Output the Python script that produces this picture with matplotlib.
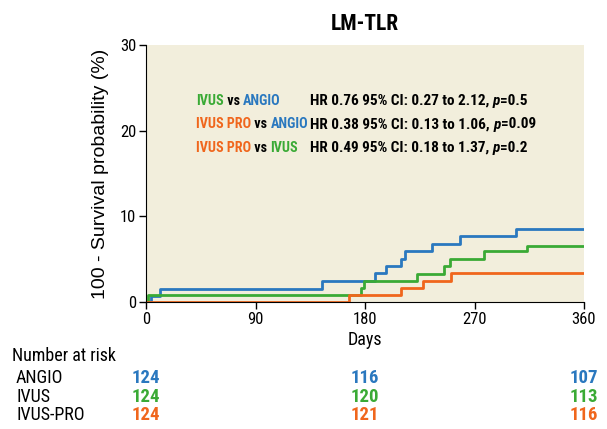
import numpy as np
import matplotlib
matplotlib.use("Agg")
import matplotlib.pyplot as plt
import matplotlib.transforms as mtransforms
from matplotlib import font_manager as fm

# step curves: (day, cumulative event %)
angio_days = [0, 4, 11.5, 145, 188, 197, 209.5, 212.7, 235, 257.7, 304, 360]
angio_vals = [0, 0.7, 1.57, 2.47, 3.33, 4.16, 5.0, 5.9, 6.75, 7.65, 8.5, 8.5]
ivus_days = [0, 2, 177, 179, 223, 244.6, 250, 278, 313, 360]
ivus_vals = [0, 0.82, 1.6, 2.43, 3.3, 4.15, 5.0, 5.9, 6.55, 6.55]
pro_days = [0, 167, 209.5, 228, 251, 360]
pro_vals = [0, 0.82, 1.65, 2.5, 3.33, 3.33]

risk_times = [0, 180, 360]
risk_angio = [124, 116, 107]
risk_ivus = [124, 120, 113]
risk_pro = [124, 121, 116]

blue = "#2a78bf"
green = "#3aaa35"
orange = "#f0661c"

# look for a narrow face, the original uses a condensed font
names = {f.name for f in fm.fontManager.ttflist}
cands = ["Liberation Sans Narrow", "Roboto Condensed", "DejaVu Sans Condensed",
         "Noto Sans Condensed", "Open Sans Condensed", "Noto Sans SemiCondensed"]
narrow_name = None
for c in cands:
    if c in names:
        narrow_name = c
        break
if narrow_name is None:
    for f in fm.fontManager.ttflist:
        if f.stretch in ("condensed", "semi-condensed", "extra-condensed") or "Condensed" in f.name or "Narrow" in f.name:
            narrow_name = f.name
            break
narrow = [narrow_name, "DejaVu Sans"] if narrow_name else ["DejaVu Sans"]
plt.rcParams["font.family"] = narrow
if narrow_name is None:
    plt.rcParams["font.stretch"] = "condensed"

fig = plt.figure(figsize=(6.07, 4.29), dpi=100)
ax = fig.add_axes([146 / 607, 1 - 302 / 429, (584 - 146) / 607, (302 - 45) / 429])
ax.set_facecolor("#f2eedc")

ax.step(angio_days, angio_vals, where="post", color=blue, lw=2)
ax.step(ivus_days, ivus_vals, where="post", color=green, lw=2)
ax.step(pro_days, pro_vals, where="post", color=orange, lw=2)

ax.set_xlim(0, 360)
ax.set_ylim(0, 30)
ax.set_xticks([0, 90, 180, 270, 360])
ax.set_yticks([0, 10, 20, 30])
ax.tick_params(labelsize=12, length=5, width=1, colors="black", pad=2)
for s in ["top", "right"]:
    ax.spines[s].set_visible(False)
ax.set_xlabel("Days", fontsize=13, labelpad=3)
ax.set_ylabel("100 - Survival probability (%)", fontsize=14, family=["Liberation Sans", "DejaVu Sans"], labelpad=8)
ax.set_title("LM-TLR", fontsize=15.5, fontweight="bold", pad=11)

# comparison annotations
rows = [
    [("IVUS", green), (" vs ", "black"), ("ANGIO", blue)],
    [("IVUS PRO", orange), (" vs ", "black"), ("ANGIO", blue)],
    [("IVUS PRO", orange), (" vs ", "black"), ("IVUS", green)],
]
hr_txt = [
    ("HR 0.76 95% CI: 0.27 to 2.12, ", "0.5"),
    ("HR 0.38 95% CI: 0.13 to 1.06, ", "0.09"),
    ("HR 0.49 95% CI: 0.18 to 1.37, ", "0.2"),
]
fs_l = 10.2 if narrow_name else 7
fs_r = 11 if narrow_name else 7.5
fig.canvas.draw()
r = fig.canvas.get_renderer()
for i, parts in enumerate(rows):
    y = 1 - (101 + i * 23.5) / 429
    x = 196 / 607
    for txt, c in parts:
        t = fig.text(x, y, txt, color=c, fontsize=fs_l, fontweight="bold", va="center")
        bb = t.get_window_extent(r)
        x += bb.width / fig.bbox.width
    a, p = hr_txt[i]
    t = fig.text(310 / 607, y, a, fontsize=fs_r, fontweight="bold", va="center")
    bb = t.get_window_extent(r)
    x = 310 / 607 + bb.width / fig.bbox.width
    t = fig.text(x, y, "p", fontsize=fs_r, fontweight="bold", style="italic", va="center")
    bb = t.get_window_extent(r)
    x += bb.width / fig.bbox.width
    fig.text(x, y, "=" + p, fontsize=fs_r, fontweight="bold", va="center")

# number at risk table
trans = mtransforms.blended_transform_factory(ax.transData, fig.transFigure)
fig.text(12 / 607, 1 - 356 / 429, "Number at risk", fontsize=13, va="center")
for j, (lab, vals, c) in enumerate([("ANGIO", risk_angio, blue), ("IVUS", risk_ivus, green), ("IVUS-PRO", risk_pro, orange)]):
    y = 1 - (378 + j * 18.5) / 429
    fig.text(16 / 607, y, lab, fontsize=13, va="center")
    for tday, v in zip(risk_times, vals):
        ax.text(tday, y, str(v), transform=trans, color=c, fontsize=13.5, fontweight="bold", ha="center", va="center")

fig.savefig("out.png", dpi=100)
